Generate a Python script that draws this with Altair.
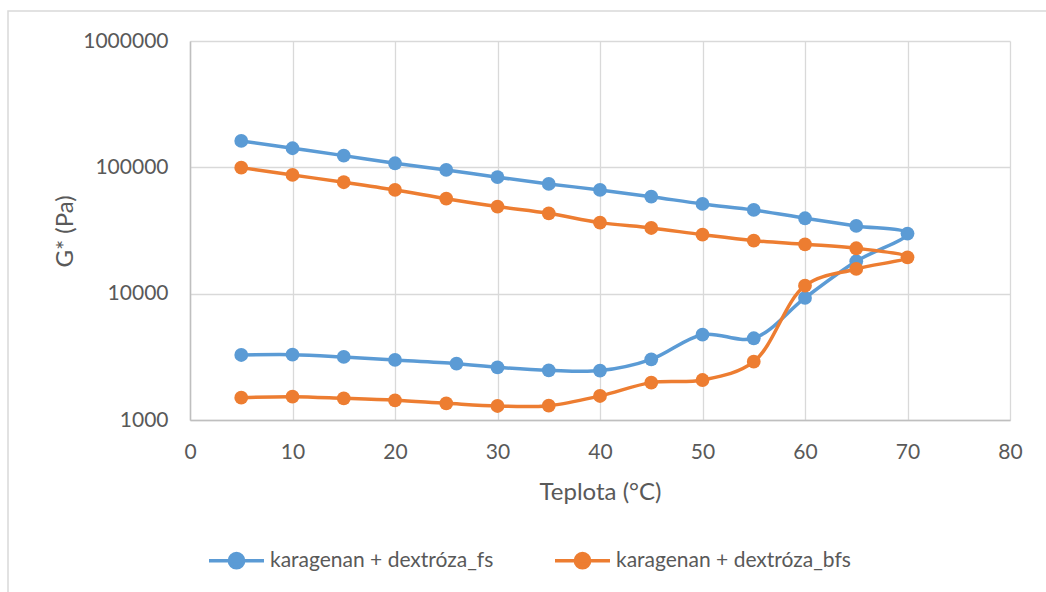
import altair as alt
import pandas as pd

# temperature (°C) in measurement order (heating then cooling)
fs_x = [5, 10, 15, 20, 25, 30, 35, 40, 45, 50, 55, 60, 65, 70,
        65, 60, 55, 50, 45, 40, 35, 30, 26, 20, 15, 10, 5]
fs_y = [161800, 141600, 123800, 107700, 95300, 83500, 73900, 66250, 58600, 51300, 45980, 39530, 34360, 29900,
        18050, 9250, 4436, 4736, 3024, 2460, 2475, 2614, 2791, 2986, 3154, 3290, 3270]

bfs_x = [5, 10, 15, 20, 25, 30, 35, 40, 45, 50, 55, 60, 65, 70,
         65, 60, 55, 50, 45, 40, 35, 30, 25, 20, 15, 10, 5]
bfs_y = [99450, 87000, 76200, 66250, 56500, 48900, 43250, 36500, 33100, 29300, 26290, 24600, 22880, 19410,
         15690, 11573, 2895, 2073, 1976, 1549, 1299, 1291, 1356, 1432, 1485, 1530, 1502]

series_names = ["karagenan + dextróza_fs", "karagenan + dextróza_bfs"]
series_colors = ["#5B9BD5", "#ED7D31"]
x_ticks = [0, 10, 20, 30, 40, 50, 60, 70, 80]
y_ticks = [1000, 10000, 100000, 1000000]

rows = []
for name, xs, ys in [(series_names[0], fs_x, fs_y), (series_names[1], bfs_x, bfs_y)]:
    for i, (xv, yv) in enumerate(zip(xs, ys)):
        rows.append({"series": name, "x": xv, "y": yv, "ord": i})
df = pd.DataFrame(rows)

FONT = "Lato"
GREY = "#595959"

xenc = alt.X("x:Q", scale=alt.Scale(domain=[0, 80], nice=False),
             axis=alt.Axis(values=x_ticks, title="Teplota (°C)", grid=True, ticks=False,
                           labelPadding=21, labelFlush=False, titleY=72, titleBaseline="middle"))
yenc = alt.Y("y:Q", scale=alt.Scale(type="log", domain=[1000, 1000000], nice=False),
             axis=alt.Axis(values=y_ticks, format="d", title="G* (Pa)", grid=True, ticks=False,
                           labelPadding=22, labelFlush=False, titleX=-125, titleY=190, titleAngle=270,
                           titleBaseline="middle", titleAlign="center"))

color_scale = alt.Scale(domain=series_names, range=series_colors)

sym_path = ("M -1 0 L 1 0 M 0.26 0 A 0.26 0.26 0 1 1 -0.26 0 "
            "A 0.26 0.26 0 1 1 0.26 0 Z")

legend = alt.Legend(title=None, orient="none", direction="horizontal",
                    legendX=17, legendY=490,
                    symbolType=sym_path, symbolSize=3025,
                    symbolStrokeWidth=3.5, labelFontSize=21, labelLimit=0,
                    labelFont=FONT, labelColor=GREY, columnPadding=54,
                    labelOffset=4)

lines = alt.Chart(df).mark_line(interpolate="catmull-rom", strokeWidth=3.5).encode(
    x=xenc, y=yenc,
    color=alt.Color("series:N", scale=color_scale, legend=legend),
    order="ord:Q",
    detail="series:N",
)

points = alt.Chart(df).mark_point(filled=True, size=190, opacity=1).encode(
    x=xenc, y=yenc,
    color=alt.Color("series:N", scale=color_scale, legend=legend),
)

border = alt.Chart(pd.DataFrame({"a": [0]})).mark_rect(
    fill=None, stroke="#D9D9D9", strokeWidth=1.5).encode(
    x=alt.value(-182), x2=alt.value(880), y=alt.value(-30), y2=alt.value(600))

chart = alt.layer(border, lines, points).properties(
    width=820, height=379,
    autosize=alt.AutoSizeParams(type="none"),
    padding={"left": 190, "top": 41, "right": 36, "bottom": 172},
).configure(background="white").configure_view(stroke=None).configure_axis(
    labelFont=FONT, labelFontSize=21, labelColor=GREY,
    titleFont=FONT, titleFontSize=24, titleColor=GREY, titleFontWeight="normal",
    gridColor="#D9D9D9", gridWidth=1.3, domainColor="#BFBFBF", domainWidth=1.5,
)

chart.save("out.html", embed_options={"renderer": "svg", "actions": False})
